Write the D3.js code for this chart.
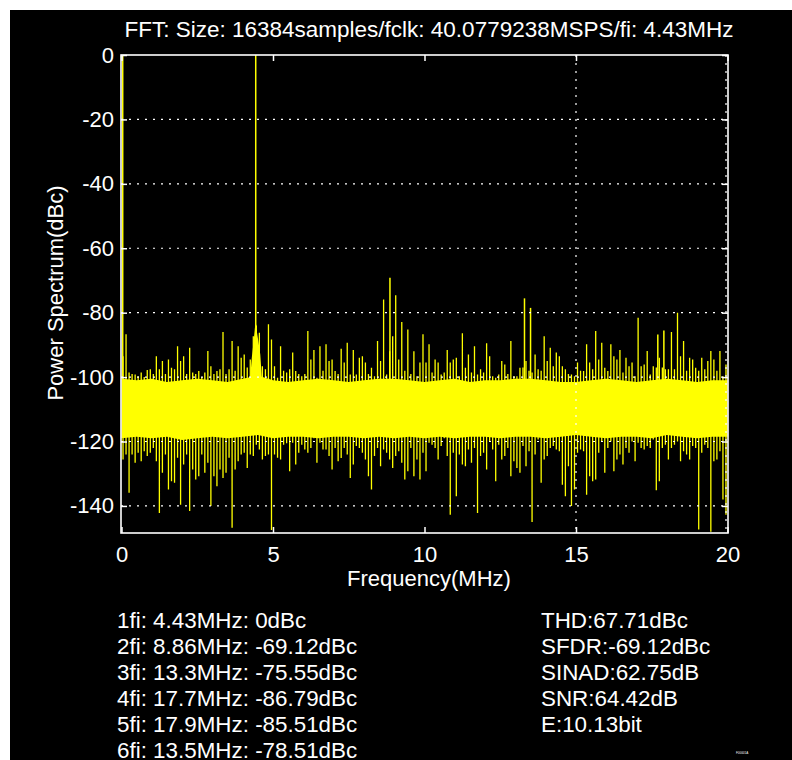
<!DOCTYPE html>
<html>
<head>
<meta charset="utf-8">
<script src="https://cdnjs.cloudflare.com/ajax/libs/d3/7.8.5/d3.min.js"></script>
<style>
  body { margin: 0; background: #fff; }
  text { font-family: "Liberation Sans", Arial, sans-serif; fill: #fff; }
</style>
</head>
<body>
<div id="chart"></div>
<script>
// spectrum: one upper and one lower envelope value per 0.1 MHz bin (dBc)
var binStart = 0.05;
var binStep = 0.1;
var hiLevel = [
  -93.5, -86.7, -98.6, -99, -99.2, -99.7, -98.6, -100, -97.8, -97.6,
  -99, -93.5, -97.6, -95, -99, -94.5, -97.1, -97.6, -90.4, -95,
  -93.5, -99, -90.9, -98.6, -99, -98.1, -100, -98.6, -91.9, -96.6,
  -99, -98.1, -97.6, -86, -99, -97.6, -88.8, -98, -90.4, -94,
  -93, -97, -94.5, -87.3, -84, -86.2, -96.6, -97.6, -83.6, -88.3,
  -96.6, -100.2, -90.4, -98, -98.6, -97.6, -92.4, -98.1, -99, -99.7,
  -99, -85.7, -94.5, -91.6, -100.2, -90.4, -98, -89.8, -95, -94.5,
  -98.1, -99, -91.2, -95.5, -89.3, -99.2, -91.6, -99.2, -94, -93.5,
  -95.5, -99, -97.1, -99.7, -88.8, -95, -75.9, -99.2, -92, -87.3,
  -74.6, -94.5, -82.9, -98, -85.2, -99, -92, -99.7, -95.5, -86.7,
  -95.5, -89.8, -98.6, -94.5, -95.5, -99.2, -98.6, -91.6, -95.5, -94.5,
  -94, -99.7, -86.4, -97.1, -93, -98.6, -90.4, -99.2, -97.6, -98.6,
  -89.5, -93.5, -99.7, -100.2, -99.2, -95, -96.1, -99, -88.8, -99.7,
  -99.7, -97.1, -97, -95, -98, -98.6, -93, -97.6, -98, -87.3,
  -95, -90.9, -96.6, -92.4, -93.5, -96.6, -97.6, -99, -99.2, -99.7,
  -95.5, -98, -98.1, -89.8, -95.5, -97.6, -85.7, -94.5, -89.3, -97.1,
  -98.1, -89.8, -93.5, -94.5, -91.6, -98.6, -94, -96.6, -95.5, -99.7,
  -81.6, -96.6, -96.1, -91.9, -99.2, -96.6, -97, -94, -97, -97.6,
  -97.6, -86, -97.6, -80, -93.5, -88.8, -98, -94, -94.5, -97.1,
  -98, -94, -97.6, -95, -91.9, -94.5, -98, -91.9, -99.7, -96.1
];
var loLevel = [
  -125.6, -124, -135.9, -124, -126.6, -123.5, -126.1, -123, -124.5, -123.5,
  -122, -126.1, -142.2, -129.7, -124, -134.9, -132.3, -132.8, -125, -139.6,
  -127.1, -124, -141.6, -128.7, -131.8, -130.8, -124, -129.7, -126.6, -140,
  -130.8, -133.9, -128.7, -131.3, -129.7, -125, -146.8, -128.7, -126.1, -124,
  -123.5, -128.2, -124, -124.5, -121, -122.5, -125.6, -124.5, -124, -147.5,
  -124, -125, -125.6, -121, -120.5, -129.2, -120.4, -127.1, -123.5, -121,
  -122.5, -123.5, -122, -119, -126.6, -120.4, -122.5, -122.5, -124.5, -128.7,
  -122, -126.1, -125.1, -122, -124, -131.3, -127.1, -121.4, -122, -123.5,
  -125.6, -130.8, -134.9, -124.5, -122, -127.7, -122.5, -123.5, -125.6, -128.2,
  -124.5, -123, -126.6, -131.8, -129.2, -122, -130.8, -125.6, -131.8, -123.5,
  -129.2, -120.4, -121, -122, -125.6, -121.4, -119, -124.5, -142.7, -123.5,
  -137, -124, -127.1, -127.7, -122.5, -126.6, -122, -142.2, -124.5, -123.5,
  -128.7, -120, -122.5, -132.3, -121, -125.6, -124.5, -122, -130.8, -126.1,
  -128.2, -129.7, -121.4, -127.7, -123, -145, -124, -119.4, -132.8, -125.6,
  -124.5, -122, -121.4, -122.5, -123, -133.4, -137, -127.7, -140, -134.9,
  -123.5, -122.5, -123, -136.5, -130.8, -132.3, -131.8, -123.5, -120, -129.7,
  -122, -120, -129.2, -125.6, -124, -127.1, -122, -123.5, -120, -126.1,
  -120.4, -122, -122.5, -121.4, -122, -119.4, -135.1, -132.3, -122, -121,
  -125.6, -122, -121, -120, -126.1, -123, -124, -125.6, -121.4, -122,
  -147.3, -123.5, -121, -122, -148, -126.1, -125.6, -123, -138, -142.7
];

// dense noise floor (solid yellow), read every 0.5 MHz
var coreFreq = [0, 0.5, 1, 1.5, 2, 2.5, 3, 3.5, 4, 4.5, 5, 5.5, 6, 6.5, 7, 7.5, 8, 8.5, 9, 9.5, 10,
  10.5, 11, 11.5, 12, 12.5, 13, 13.5, 14, 14.5, 15, 15.5, 16, 16.5, 17, 17.5, 18, 18.5, 19, 19.5, 20];
var coreTop = [-100.5, -101, -100.5, -101.5, -101, -100.5, -101, -101.5, -100.5, -99.5, -101,
  -101.5, -101, -100.5, -101, -101.5, -101, -100.5, -100.5, -101, -101.5,
  -101, -100.5, -101.5, -101, -101, -100.5, -100.5, -101, -101.5, -101.5,
  -101, -100.5, -101, -101.5, -101, -100.5, -101, -101.5, -101, -101];
var coreBottom = [-119, -118.5, -119, -118.5, -119.5, -119, -118.5, -119, -118.5, -118, -119,
  -118.5, -118.5, -119, -118.5, -118.5, -119, -118.5, -119, -118.5, -119,
  -118.5, -119, -118.5, -118.5, -119, -118.5, -118.5, -119, -118.5, -118,
  -118.5, -119, -118.5, -118.5, -119, -118, -118.5, -119, -118.5, -118.5];

// skirt around the fundamental
var skirtFreq = [4.25, 4.30, 4.36, 4.40, 4.43, 4.47, 4.52, 4.58, 4.63];
var skirtLevel = [-100, -94, -89, -85, -82.5, -86, -89, -93, -100];

// harmonics table (also printed under the plot)
var harmonicName = ["1fi", "2fi", "3fi", "4fi", "5fi", "6fi"];
var harmonicFreq = [4.43, 8.86, 13.3, 17.7, 17.9, 13.5];
var harmonicLevel = [0, -69.12, -75.55, -86.79, -85.51, -78.51];
var harmonicFreqText = ["4.43", "8.86", "13.3", "17.7", "17.9", "13.5"];
var harmonicLevelText = ["0", "-69.12", "-75.55", "-86.79", "-85.51", "-78.51"];
var dcFreq = 0.04;
var dcLevel = 0;

var metrics = ["THD:67.71dBc", "SFDR:-69.12dBc", "SINAD:62.75dB", "SNR:64.42dB", "E:10.13bit"];

var xTicks = [0, 5, 10, 15, 20];
var yTicks = [0, -20, -40, -60, -80, -100, -120, -140];
var xGrid = [15, 20];
var yGrid = [-20, -40, -60, -80, -100, -120, -140];

var svgWidth = 792;
var svgHeight = 760;
var margin = { top: 55, right: 64, bottom: 227, left: 121 };
var width = svgWidth - margin.left - margin.right;
var height = svgHeight - margin.top - margin.bottom;
var yellow = "#ffff00";

var svg = d3.select("#chart")
  .append("svg")
  .attr("width", svgWidth)
  .attr("height", svgHeight)
  .style("display", "block");

svg.append("rect")
  .attr("x", 10).attr("y", 10)
  .attr("width", svgWidth - 10).attr("height", svgHeight - 10)
  .attr("fill", "#000");

var chartGroup = svg.append("g")
  .attr("transform", `translate(${margin.left}, ${margin.top})`);

var x = d3.scaleLinear().domain([0, 20]).range([0.5, width - 0.5]);
var y = d3.scaleLinear().domain([-148.4, 0]).range([height, 0]);

chartGroup.append("clipPath").attr("id", "plotclip")
  .append("rect").attr("width", width).attr("height", height);

var plot = chartGroup.append("g").attr("clip-path", "url(#plotclip)");

// solid noise floor
plot.append("path")
  .datum(coreFreq)
  .attr("fill", yellow)
  .attr("d", d3.area()
    .x(d => x(d))
    .y0((d, i) => y(coreBottom[i]))
    .y1((d, i) => y(coreTop[i])));

// fundamental skirt
plot.append("path")
  .datum(skirtFreq)
  .attr("fill", yellow)
  .attr("d", d3.area()
    .x(d => x(d))
    .y0(y(-104))
    .y1((d, i) => y(skirtLevel[i])));

// per-bin spikes
var bins = hiLevel.map(function(h, i) {
  return { f: binStart + i * binStep, hi: h, lo: loLevel[i] };
});
plot.append("path")
  .attr("fill", "none")
  .attr("stroke", yellow)
  .attr("stroke-width", 1.3)
  .attr("d", bins.map(d => `M${x(d.f)},${y(d.hi)}V${y(d.lo)}`).join(""));

// harmonic tones and dc
var tones = harmonicFreq.map((f, i) => ({ f: f, level: harmonicLevel[i] }));
tones.push({ f: dcFreq, level: dcLevel });
plot.selectAll(".tone")
  .data(tones)
  .enter()
  .append("line")
  .attr("class", "tone")
  .attr("x1", d => x(d.f)).attr("x2", d => x(d.f))
  .attr("y1", d => y(d.level) - (d.level === 0 ? 2 : 0))
  .attr("y2", y(-105))
  .attr("stroke", yellow)
  .attr("stroke-width", 1.5);

// dotted grid
chartGroup.selectAll(".hgrid")
  .data(yGrid)
  .enter()
  .append("line")
  .attr("x1", 0).attr("x2", width)
  .attr("y1", d => y(d)).attr("y2", d => y(d))
  .attr("stroke", "#fff")
  .attr("stroke-width", 1.2)
  .attr("stroke-dasharray", "2,6");

chartGroup.selectAll(".vgrid")
  .data(xGrid)
  .enter()
  .append("line")
  .attr("x1", d => x(d) - (d === 20 ? 1.5 : 0)).attr("x2", d => x(d) - (d === 20 ? 1.5 : 0))
  .attr("y1", 0).attr("y2", height)
  .attr("stroke", "#fff")
  .attr("stroke-width", 1.2)
  .attr("stroke-dasharray", "2,6");

// axes with inward ticks, plain hyphen minus like the original
var leftAxis = d3.axisLeft(y).tickValues(yTicks).tickSize(-6).tickPadding(7).tickFormat(d => String(d));
var rightAxis = d3.axisRight(y).tickValues(yTicks).tickSize(-6).tickFormat("");
var bottomAxis = d3.axisBottom(x).tickValues(xTicks).tickSize(-6).tickPadding(13).tickFormat(d => String(d));
var topAxis = d3.axisTop(x).tickValues(xTicks).tickSize(-6).tickFormat("");

function styleAxis(g) {
  g.select(".domain").remove();
  g.selectAll("line").attr("stroke", "#fff").attr("stroke-width", 1.5);
  g.selectAll("text").attr("fill", "#fff").style("font-size", "22px")
    .style("font-family", "'Liberation Sans', Arial, sans-serif");
}

chartGroup.append("g").call(leftAxis).call(styleAxis);
chartGroup.append("g").attr("transform", `translate(${width}, 0)`).call(rightAxis).call(styleAxis);
chartGroup.append("g").attr("transform", `translate(0, ${height})`).call(bottomAxis).call(styleAxis);
chartGroup.append("g").call(topAxis).call(styleAxis);

// frame
chartGroup.append("rect")
  .attr("width", width).attr("height", height)
  .attr("fill", "none")
  .attr("stroke", "#fff")
  .attr("stroke-width", 1.6);

// titles
svg.append("text")
  .attr("x", 429).attr("y", 37)
  .attr("text-anchor", "middle")
  .style("font-size", "22.5px")
  .text("FFT: Size: 16384samples/fclk: 40.0779238MSPS/fi: 4.43MHz");

svg.append("text")
  .attr("x", 429).attr("y", 586)
  .attr("text-anchor", "middle")
  .style("font-size", "22px")
  .text("Frequency(MHz)");

svg.append("text")
  .attr("transform", "translate(63, 293) rotate(-90)")
  .attr("text-anchor", "middle")
  .style("font-size", "22px")
  .text("Power Spectrum(dBc)");

// harmonic list and metrics
svg.selectAll(".harm")
  .data(harmonicName)
  .enter()
  .append("text")
  .attr("x", 117)
  .attr("y", (d, i) => 628 + i * 26)
  .style("font-size", "22.4px")
  .text((d, i) => `${d}: ${harmonicFreqText[i]}MHz: ${harmonicLevelText[i]}dBc`);

svg.selectAll(".metric")
  .data(metrics)
  .enter()
  .append("text")
  .attr("x", 541)
  .attr("y", (d, i) => 628 + i * 26)
  .style("font-size", "22.4px")
  .text(d => d);

svg.append("text")
  .attr("x", 736).attr("y", 754)
  .style("font-size", "3px")
  .attr("fill", "#bbb")
  .text("F00001A");
</script>
</body>
</html>
